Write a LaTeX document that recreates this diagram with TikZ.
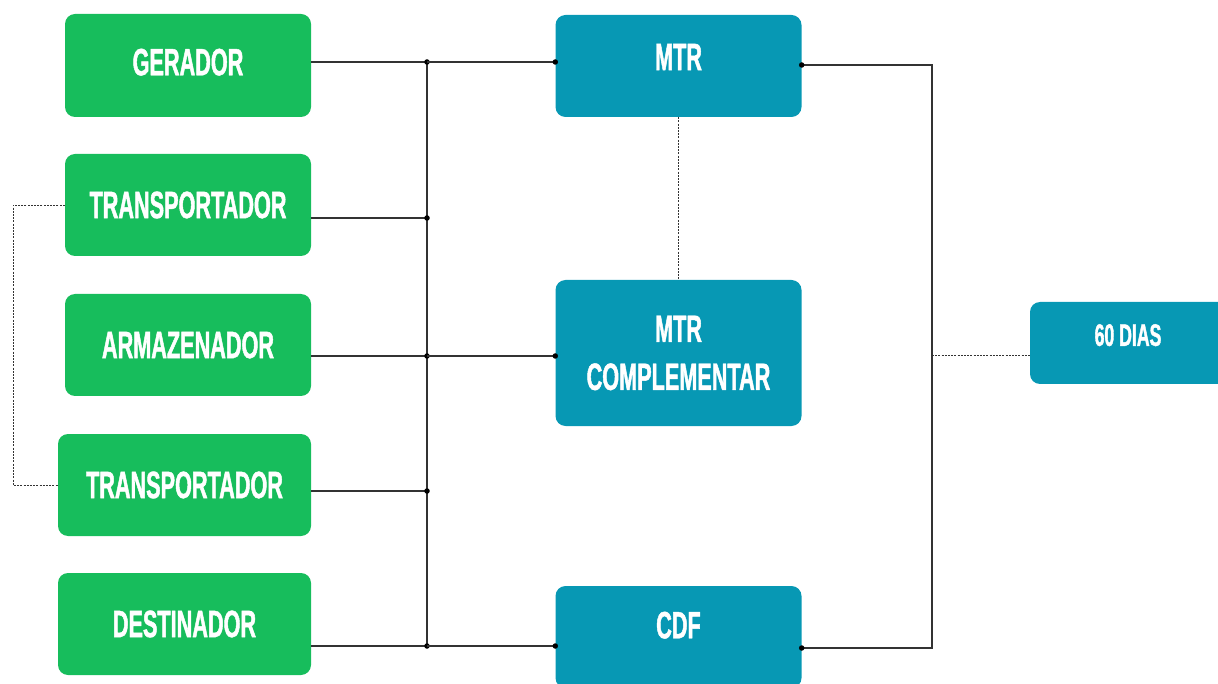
\documentclass[tikz,border=0pt]{standalone}
\usepackage{fontspec}
\newfontfamily\boxfont[FakeStretch=0.57,FakeBold=1.2]{Liberation Sans}
\definecolor{boxgreen}{HTML}{17BD5C}
\definecolor{boxteal}{HTML}{0798B4}
\definecolor{linegray}{HTML}{333333}
\begin{document}
\begin{tikzpicture}[x=1pt,y=-1pt,
  box/.style={draw=none,rounded corners=10pt,inner sep=0pt,text=white,
    font=\boxfont\bfseries\fontsize{38}{42}\selectfont,align=center},
  gbox/.style={box,fill=boxgreen,minimum width=246pt,minimum height=102pt},
  tbox/.style={box,fill=boxteal,minimum width=246pt,minimum height=102pt},
  conn/.style={draw=linegray,line width=1.1pt},
  dconn/.style={draw=linegray,line width=0.9pt,dash pattern=on 2pt off 1.2pt},
  dot/.style={fill=black,circle,inner sep=0pt,minimum size=5.5pt}
]
\useasboundingbox (0,0) rectangle (1218,684);
% left column
\node[gbox,minimum height=103pt] (ger) at (188,65.5) {\raisebox{7pt}{GERADOR}};
\node[gbox] (tr1) at (188,205) {\raisebox{-5pt}{TRANSPORTADOR}};
\node[gbox] (arm) at (188,345) {ARMAZENADOR};
\node[gbox,minimum width=253pt] (tr2) at (184.5,485) {\raisebox{-4pt}{TRANSPORTADOR}};
\node[gbox,minimum width=253pt] (des) at (184.5,624) {DESTINADOR};
% middle column
\node[tbox] (mtr) at (678.5,66) {\raisebox{18pt}{MTR}};
\node[tbox,minimum height=146pt] (mtrc) at (678.5,353) {MTR\\[6pt]COMPLEMENTAR};
\node[tbox] (cdf) at (678.5,637) {\raisebox{24pt}{CDF}};
% right
\node[box,fill=boxteal,minimum width=200pt,minimum height=82pt,
  font=\boxfont\bfseries\fontsize{31}{34}\selectfont] (dias) at (1130,343) {\hspace*{-4pt}\raisebox{16pt}{60 DIAS}};
% bus coordinates
\coordinate (b1) at (427,62);
\coordinate (b2) at (427,218);
\coordinate (b3) at (427,356);
\coordinate (b4) at (427,491);
\coordinate (b5) at (427,646);
\coordinate (r1) at (932,65);
\coordinate (r2) at (932,648);
\coordinate (rm) at (932,355);
\coordinate (lx) at (13,0);
% left bus
\draw[conn] (b1) -- (b5);
\foreach \b/\n in {b1/ger,b2/tr1,b3/arm,b4/tr2,b5/des}{
  \draw[conn] (\b -| \n.east) -- (\b);
  \node[dot] at (\b) {};
}
\draw[conn] (b1) -- (b1 -| mtr.west) node[dot] {};
\draw[conn] (b3) -- (b3 -| mtrc.west) node[dot] {};
\draw[conn] (b5) -- (b5 -| cdf.west) node[dot] {};
% right bus
\draw[conn] (r1 -| mtr.east) node[dot] {} -- (r1) -- (r2) -- (r2 -| cdf.east) node[dot] {};
\draw[dconn] (rm) -- (rm -| dias.west);
% dashed links
\draw[dconn] (mtr.south) -- (mtrc.north);
\draw[dconn] (tr1.west) -- (tr1.west -| lx) |- (tr2.west);
\end{tikzpicture}
\end{document}
